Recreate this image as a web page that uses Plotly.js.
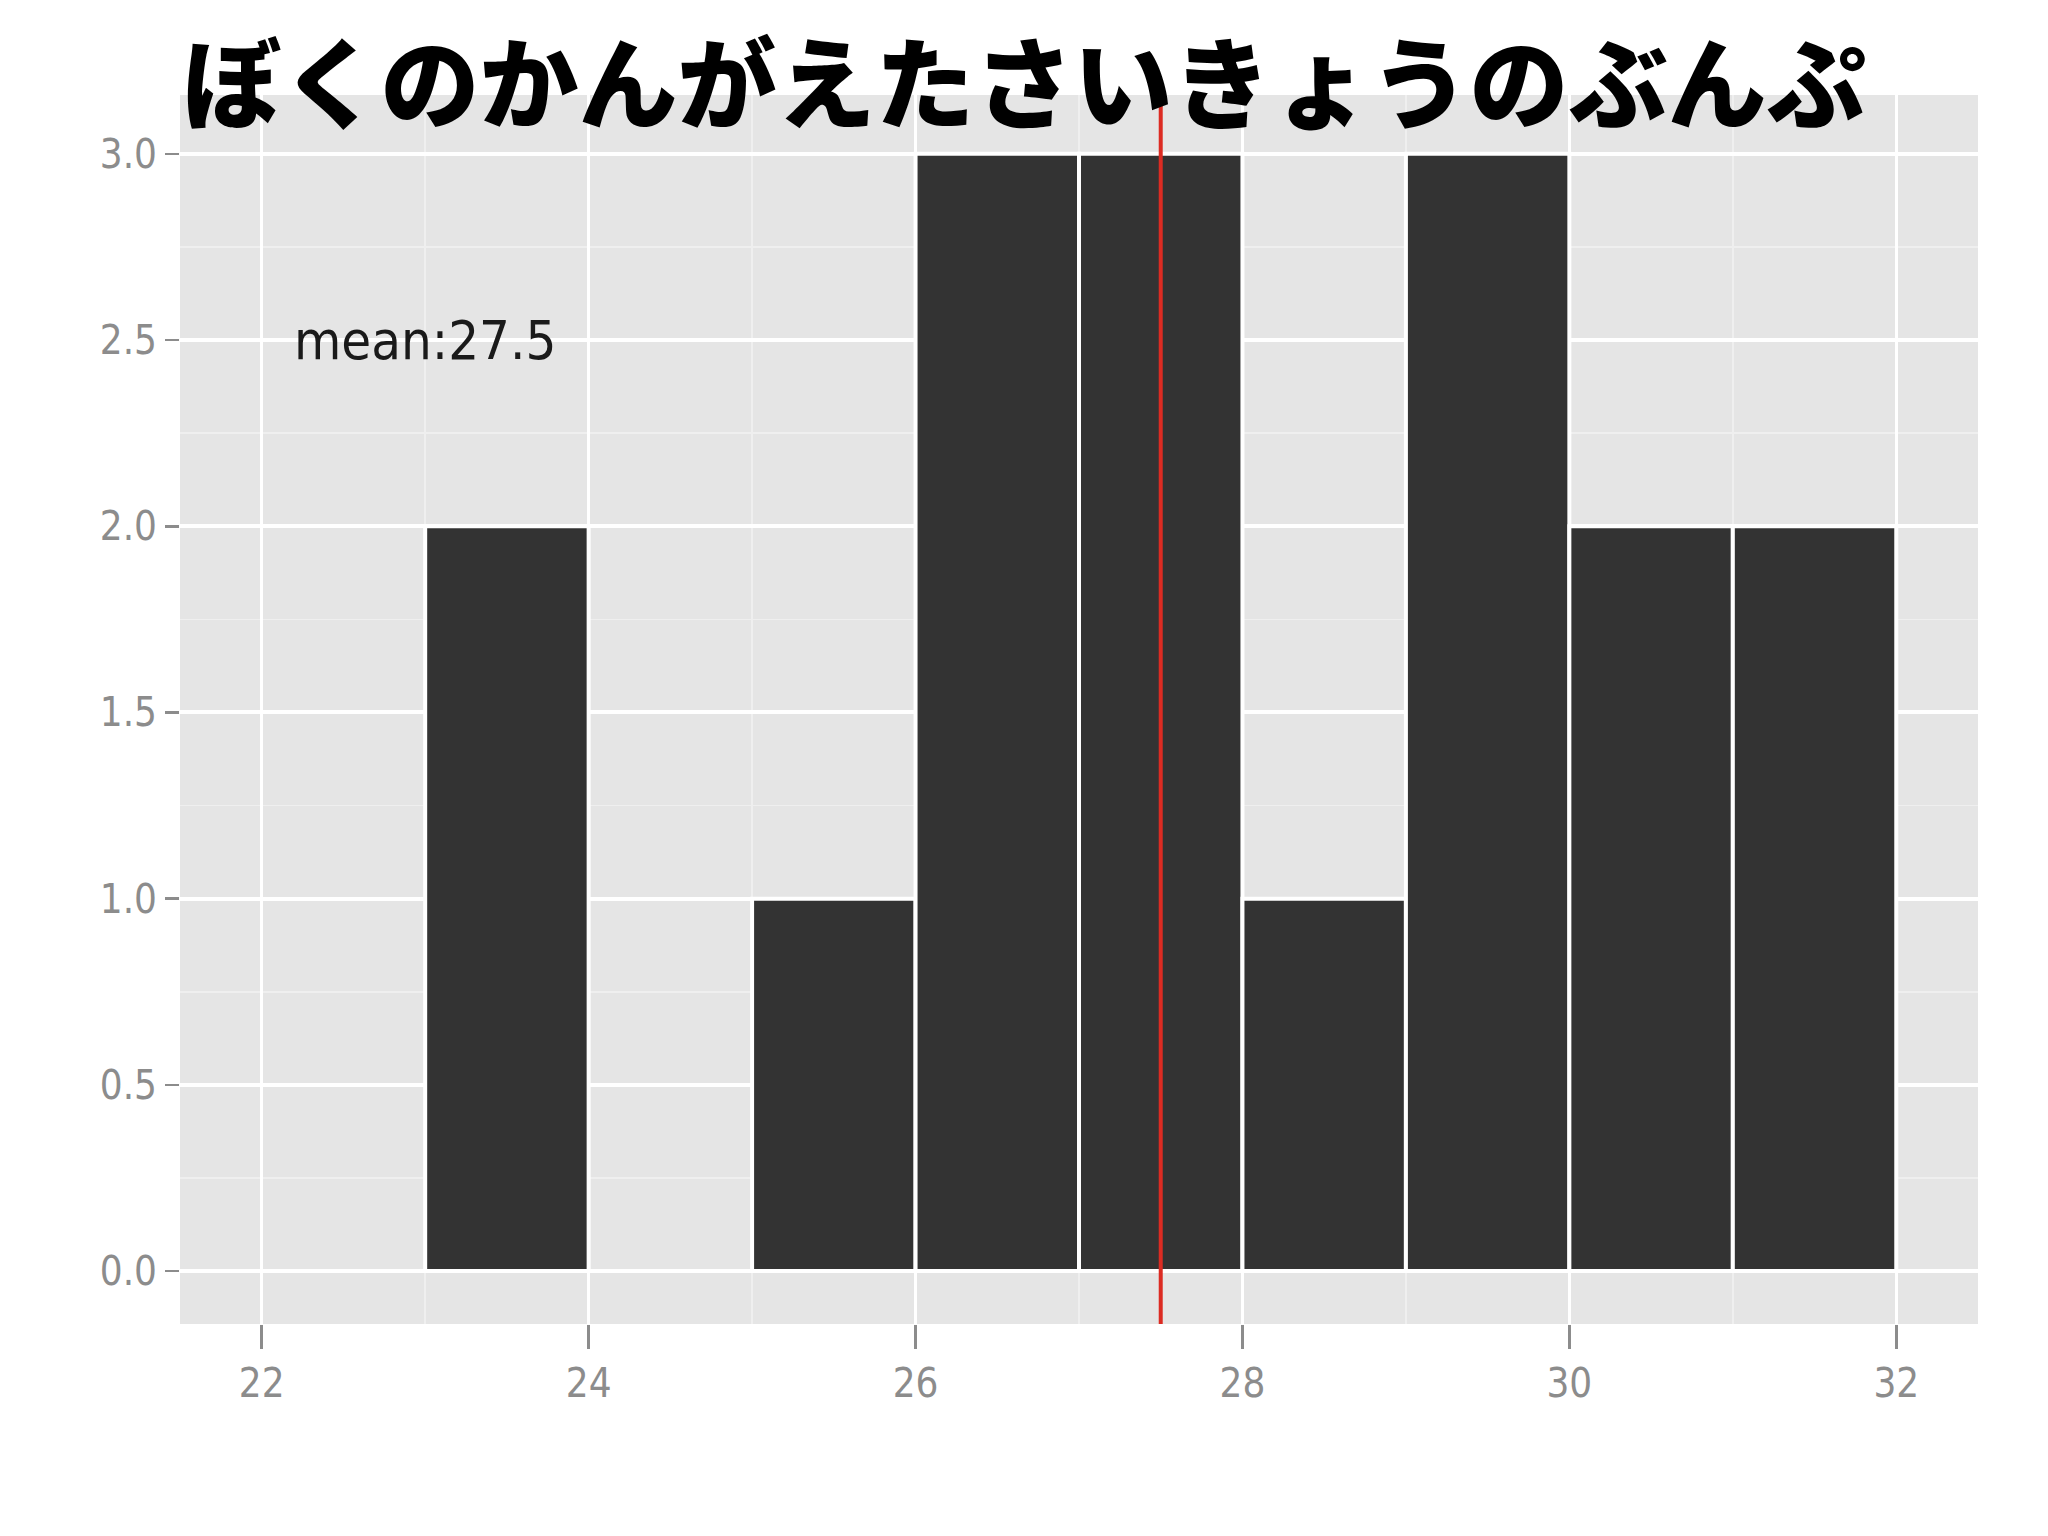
<!DOCTYPE html>
<html>
<head>
<meta charset="utf-8">
<script src="https://cdn.plot.ly/plotly-3.0.1.min.js"></script>
<style>
  html, body { margin: 0; padding: 0; background: #ffffff; }
  #chart { width: 2048px; height: 1536px; }
</style>
</head>
<body>
<div id="chart"></div>
<script>
// ---- data ----
const titleText = "ぼくのかんがえたさいきょうのぶんぷ";
const binLeft = [23, 24, 25, 26, 27, 28, 29, 30, 31];
const binWidth = 1;
const counts = [2, 0, 1, 3, 3, 1, 3, 2, 2];
const meanValue = 27.5;
const meanLabel = "mean:27.5";
const meanLabelPos = [23, 2.5];
const xTickVals = [22, 24, 26, 28, 30, 32];
const xTickText = ["22", "24", "26", "28", "30", "32"];
const yTickVals = [0, 0.5, 1, 1.5, 2, 2.5, 3];
const yTickText = ["0.0", "0.5", "1.0", "1.5", "2.0", "2.5", "3.0"];

const narrow = '"Liberation Sans Narrow", "Arial Narrow", "DejaVu Sans Condensed", sans-serif';

const bars = {
  type: 'bar',
  x: binLeft.map(v => v + binWidth / 2),
  y: counts,
  width: binLeft.map(() => binWidth),
  marker: { color: '#333333', line: { color: '#ffffff', width: 4 } },
  hoverinfo: 'skip',
  showlegend: false
};

const meanLine = {
  type: 'scatter',
  mode: 'lines',
  x: [meanValue, meanValue],
  y: [-0.142, 3.158],
  line: { color: '#dc2b22', width: 4 },
  hoverinfo: 'skip',
  showlegend: false
};

const layout = {
  width: 2048,
  height: 1536,
  paper_bgcolor: '#ffffff',
  plot_bgcolor: '#e5e5e5',
  margin: { l: 180, r: 70, t: 95, b: 212 },
  bargap: 0,
  showlegend: false,
  title: {
    text: titleText,
    font: { family: '"Noto Sans CJK JP", sans-serif', size: 99, color: '#000000', weight: 900 },
    x: 0.5, xanchor: 'center', xref: 'container',
    y: 1 - 86 / 1536, yanchor: 'middle', yref: 'container'
  },
  xaxis: {
    range: [21.5, 32.5],
    tickvals: xTickVals,
    ticktext: xTickText,
    ticks: 'outside', ticklen: 24, tickwidth: 2.5, tickcolor: '#8c8c8c',
    tickfont: { family: narrow, size: 40, color: '#8c8c8c' },
    showgrid: true, gridcolor: '#ffffff', gridwidth: 3.5,
    minor: { tickvals: [23, 25, 27, 29, 31], showgrid: true, gridcolor: '#efefef', gridwidth: 1.5, ticks: '' },
    zeroline: false, showline: false,
    fixedrange: true
  },
  yaxis: {
    range: [-0.142, 3.158],
    tickvals: yTickVals,
    ticktext: yTickText,
    ticks: 'outside', ticklen: 14, tickwidth: 2.5, tickcolor: '#8c8c8c',
    tickfont: { family: narrow, size: 40, color: '#8c8c8c' },
    showgrid: true, gridcolor: '#ffffff', gridwidth: 4,
    minor: { tickvals: [0.25, 0.75, 1.25, 1.75, 2.25, 2.75], showgrid: true, gridcolor: '#efefef', gridwidth: 1.5, ticks: '' },
    zeroline: false, showline: false,
    fixedrange: true
  },
  annotations: [{
    x: meanLabelPos[0], y: meanLabelPos[1], xref: 'x', yref: 'y',
    text: meanLabel, showarrow: false,
    xanchor: 'center', yanchor: 'middle',
    font: { family: narrow, size: 54, color: '#1a1a1a' }
  }]
};

Plotly.newPlot('chart', [bars, meanLine], layout, { staticPlot: true, displayModeBar: false });
</script>
</body>
</html>
